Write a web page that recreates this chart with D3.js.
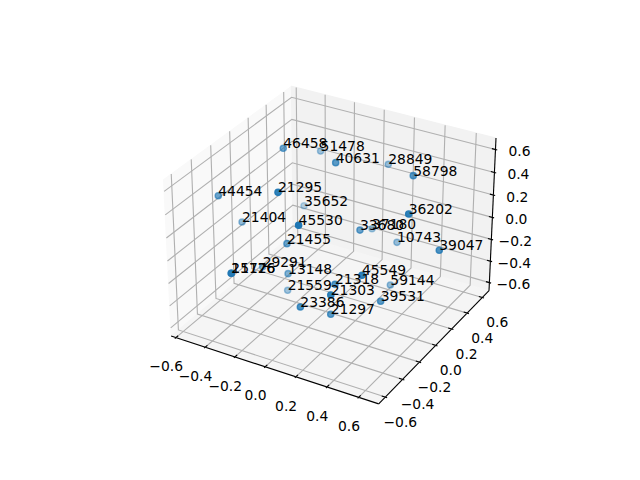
<!DOCTYPE html><html><head><meta charset="utf-8"><style>html,body{margin:0;background:#fff}svg{display:block}text{font-family:"DejaVu Sans";font-size:13.89px;fill:#000}</style></head><body><svg id="c" width="640" height="480"></svg>
<script src="https://cdn.jsdelivr.net/npm/d3@7"></script>
<script>
const labels=["46458","51478","40631","28849","58798","44454","21295","35652","21404","45530","21455","36202","33680","37180","10743","39047","45549","21318","59144","21303","39531","21297","23386","21559","13148","29291","21726","15176"];
const xs=[-.354,-.318,.003,.072,.401,-.581,-.079,-.399,-.561,.115,-.173,.571,.169,.036,.231,.678,.433,.196,.283,.312,.419,.193,.084,-.281,-.201,-.365,-.271,-.271];
const ys=[.130,.494,.113,.616,.302,-.218,-.381,.433,-.006,-.488,-.140,-.072,.103,.491,.442,.103,-.347,-.231,.270,-.480,-.100,-.274,-.426,.038,-.086,-.101,-.579,-.579];
const zs=[.571,.339,.583,.284,.497,.290,.609,-.151,-.075,.474,-.030,.470,.061,-.236,-.253,.082,.077,-.181,-.506,-.049,-.333,-.419,-.289,-.623,-.349,-.342,-.029,-.029];
const xLim=[-.606,.698],yLim=[-.648,.663],zLim=[-.648,.672];
const tickValues=[-.6,-.4,-.2,0,.2,.4,.6];
const tickText=["\u22120.6","\u22120.4","\u22120.2","0.0","0.2","0.4","0.6"];
// matplotlib mplot3d camera: elev 30, azim -60, dist 10, box aspect 4:4:3
const A=8/7,C=6/7,dist=10;
const U=[.8660254,.5,0],V=[-.25,.4330127,.8660254],W=[.4330127,-.75,.5];
const nx=d3.scaleLinear().domain(xLim).range([-A/2,A/2]);
const ny=d3.scaleLinear().domain(yLim).range([-A/2,A/2]);
const nz=d3.scaleLinear().domain(zLim).range([-C/2,C/2]);
const sx=d3.scaleLinear().domain([-.095,.09]).range([143.2,512.8]);
const sy=d3.scaleLinear().domain([-.095,.09]).range([427.2,57.6]);
function proj(p){const d=[nx(p[0]),ny(p[1]),nz(p[2])];
 const dot=a=>a[0]*d[0]+a[1]*d[1]+a[2]*d[2];
 const z=dot(W),k=dist-z;return{x:sx(dot(U)/k),y:sy(dot(V)/k),z};}
const pad=l=>{const e=(l[1]-l[0])/48;return[l[0]-e,l[1]+e]};
const [x0,x1]=pad(xLim),[y0,y1]=pad(yLim),[z0,z1]=pad(zLim);
const svg=d3.select("#c");
const line=d3.line().x(d=>d.x).y(d=>d.y);
const poly=(pts,fill)=>svg.append("path").attr("d",line(pts.map(proj))+"Z").attr("fill",fill).attr("stroke",fill).attr("stroke-width",1);
poly([[x0,y0,z0],[x0,y1,z0],[x0,y1,z1],[x0,y0,z1]],"#f9f9f9");
poly([[x0,y1,z0],[x1,y1,z0],[x1,y1,z1],[x0,y1,z1]],"#f2f2f2");
poly([[x0,y0,z0],[x1,y0,z0],[x1,y1,z0],[x0,y1,z0]],"#f5f5f5");
const seg=(pts,col,w)=>svg.append("path").attr("d",line(pts.map(proj))).attr("fill","none").attr("stroke",col).attr("stroke-width",w).attr("stroke-linejoin","miter");
const grid="#b0b0b0",gw=1.11;
seg([[x0,y0,z0],[x1,y0,z0]],"#000",1.11);
seg([[x1,y0,z0],[x1,y1,z0]],"#000",1.11);
seg([[x1,y1,z0],[x1,y1,z1]],"#000",1.11);
tickValues.forEach(t=>{
 seg([[t,y0,z0],[t,y1,z0],[t,y1,z1]],grid,gw);
 seg([[x1,t,z0],[x0,t,z0],[x0,t,z1]],grid,gw);
 seg([[x0,y0,t],[x0,y1,t],[x1,y1,t]],grid,gw);
});
const dx=(x1-x0)/12,dy=(y1-y0)/12;
const label=(p,o,s)=>{const q=proj(p);svg.append("text").attr("x",q.x+o[0]).attr("y",q.y+o[1]).attr("text-anchor","middle").attr("dominant-baseline","central").text(s);};
tickValues.forEach((t,i)=>{
 seg([[t,y0-.1*dy,z0],[t,y0+.2*dy,z0]],"#000",1.11);
 seg([[x1+.1*dx,t,z0],[x1-.2*dx,t,z0]],"#000",1.11);
 seg([[x1+.1*dx,y1,t],[x1-.2*dx,y1,t]],"#000",1.11);
 label([t,y0,z0],[-9.7,28.7],tickText[i]);
 label([x1,t,z0],[15,24.5],tickText[i]);
 label([x1,y1,t],[24,1.7],tickText[i]);
});
const pts=labels.map((s,i)=>({s,...proj([xs[i],ys[i],zs[i]])}));
const alpha=d3.scaleLinear().domain(d3.extent(pts,d=>d.z)).range([.3,1]);
svg.append("g").selectAll("circle").data(pts.slice().sort((a,b)=>a.z-b.z)).join("circle")
 .attr("cx",d=>d.x).attr("cy",d=>d.y).attr("r",3.1)
 .attr("fill","#1f77b4").attr("stroke","#1f77b4").attr("stroke-width",1.39)
 .attr("fill-opacity",d=>alpha(d.z)).attr("stroke-opacity",d=>alpha(d.z));
svg.append("g").selectAll("text").data(pts).join("text").attr("x",d=>d.x).attr("y",d=>d.y).text(d=>d.s);
</script></body></html>
